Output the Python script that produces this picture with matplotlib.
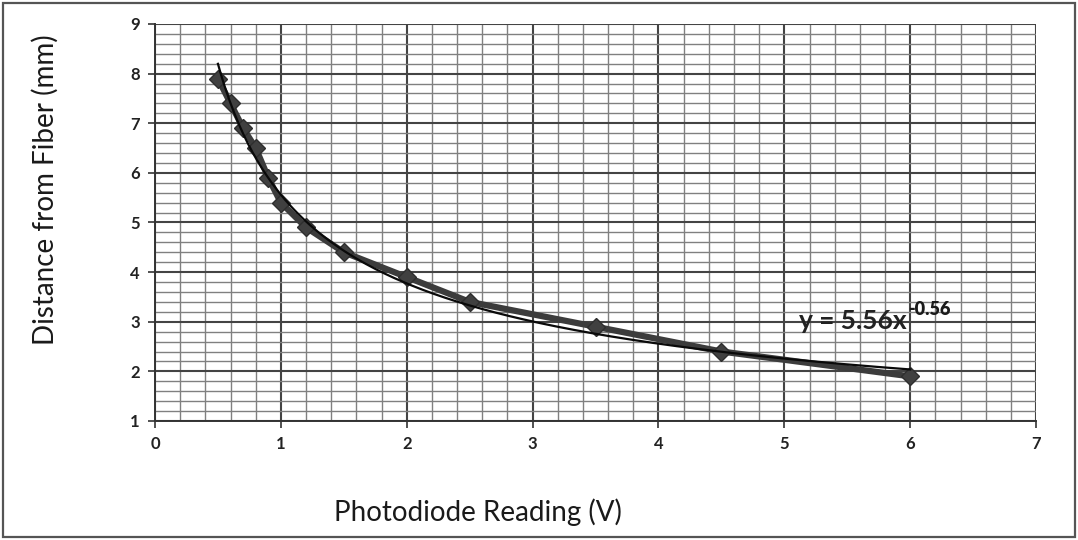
import numpy as np
import matplotlib
matplotlib.use("Agg")
import matplotlib.pyplot as plt
from matplotlib.patches import Rectangle
from matplotlib.ticker import MultipleLocator

# ── DATA ──────────────────────────────────────────────────────────────────────
volts = [0.5, 0.6, 0.7, 0.8, 0.9, 1.0, 1.2, 1.5, 2.0, 2.5, 3.5, 4.5, 6.0]
dist_mm = [7.9, 7.4, 6.9, 6.5, 5.9, 5.4, 4.9, 4.4, 3.9, 3.4, 2.9, 2.4, 1.9]

# power-law trendline as printed on the chart: y = 5.56 x^-0.56
FIT_A = 5.56
FIT_B = -0.56

x_ticks = [0, 1, 2, 3, 4, 5, 6, 7]
y_ticks = [1, 2, 3, 4, 5, 6, 7, 8, 9]

FONT = ["Lato", "DejaVu Sans"]
plt.rcParams["font.family"] = FONT

fig = plt.figure(figsize=(10.78, 5.40), dpi=100)
ax = fig.add_axes([0.1438, 0.2204, 0.8173, 0.7352])

# outer chart border
fig.patches.append(Rectangle((0.003, 0.005), 0.994, 0.99, transform=fig.transFigure,
                             fill=False, edgecolor="#555555", linewidth=1.6))

# ── grid ──
ax.set_xlim(0, 7)
ax.set_ylim(1, 9)
ax.xaxis.set_major_locator(MultipleLocator(1))
ax.yaxis.set_major_locator(MultipleLocator(1))
ax.xaxis.set_minor_locator(MultipleLocator(0.2))
ax.yaxis.set_minor_locator(MultipleLocator(0.2))
ax.grid(which="minor", color="#808080", linewidth=1.0)
ax.grid(which="major", color="#444444", linewidth=1.5)
ax.set_axisbelow(True)
ax.tick_params(which="minor", length=0)
ax.tick_params(which="major", length=5, width=1.2, color="#333333",
               labelsize=12, pad=6)

ax.set_xticks(x_ticks)
ax.set_yticks(y_ticks)
for lbl in ax.get_xticklabels() + ax.get_yticklabels():
    lbl.set_fontweight("bold")
    lbl.set_color("#222222")

for side in ["top", "right"]:
    ax.spines[side].set_visible(False)
for side in ["left", "bottom"]:
    ax.spines[side].set_color("#333333")
    ax.spines[side].set_linewidth(1.4)

# ── series ──
ax.plot(volts, dist_mm, "-", color="#3c3c3c", linewidth=4.5,
        marker="D", markersize=9.5, markerfacecolor="#404040",
        markeredgecolor="#2e2e2e", zorder=3)

xs = np.linspace(min(volts), max(volts), 300)
ax.plot(xs, FIT_A * xs ** FIT_B, color="#0a0a0a", linewidth=1.6, zorder=4)

eq = ax.text(5.12, 3.02, "y = 5.56x", fontsize=19, fontweight="bold",
             ha="left", va="center", color="#222222", zorder=5)
ax.annotate("-0.56", xy=(1.0, 0.8), xycoords=eq, xytext=(1.0, 3.0),
            textcoords="offset points", fontsize=13,
            fontweight="heavy", ha="left", va="center", color="#1a1a1a",
            zorder=5)

fig.text(478 / 1078, 1 - 512 / 540, "Photodiode Reading (V)", fontsize=20,
         color="#1a1a1a", ha="center", va="center")
fig.text(45 / 1078, 1 - 190 / 540, "Distance from Fiber (mm)", fontsize=20,
         color="#1a1a1a", ha="center", va="center", rotation=90)

fig.savefig("out.png", dpi=100)
